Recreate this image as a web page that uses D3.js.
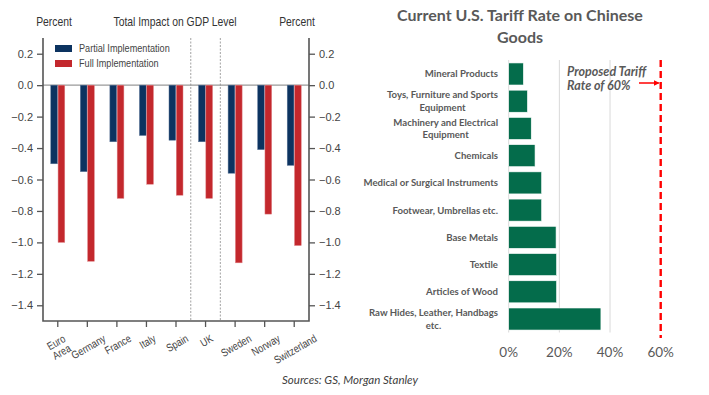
<!DOCTYPE html>
<html>
<head>
  <meta charset='utf-8'>
  <title>GDP impact and tariff rates</title>
  <script src='https://cdn.jsdelivr.net/npm/d3@7/dist/d3.min.js'></script>
  <style>
    body { margin: 0; background: #ffffff; }
    svg { display: block; }
  </style>
</head>
<body>
  <svg id='chart' width='709' height='395'></svg>
  <script>
    // left panel: GDP level impact
    const countries = ['Euro\nArea', 'Germany', 'France', 'Italy', 'Spain', 'UK', 'Sweden', 'Norway', 'Switzerland'];
    const partialImpl = [-0.50, -0.55, -0.36, -0.32, -0.35, -0.36, -0.56, -0.41, -0.51];
    const fullImpl = [-1.00, -1.12, -0.72, -0.63, -0.70, -0.72, -1.13, -0.82, -1.02];
    const gdpTicks = [0.2, 0.0, -0.2, -0.4, -0.6, -0.8, -1.0, -1.2, -1.4];
    const seriesNames = ['Partial Implementation', 'Full Implementation'];

    // right panel: tariff rates
    const goods = ['Mineral Products', 'Toys, Furniture and Sports\nEquipment', 'Machinery and Electrical\nEquipment',
      'Chemicals', 'Medical or Surgical Instruments', 'Footwear, Umbrellas etc.', 'Base Metals', 'Textile',
      'Articles of Wood', 'Raw Hides, Leather, Handbags\netc.'];
    const tariffRates = [0.058, 0.074, 0.089, 0.104, 0.13, 0.13, 0.187, 0.189, 0.189, 0.364];
    const rateTicks = [0, 0.2, 0.4, 0.6];
    const proposedRate = 0.6;

    const svg = d3.select('#chart');
    const arial = "'Liberation Sans', Arial, sans-serif";
    const calibri = "Lato, 'Open Sans', sans-serif";
    const squeeze = 0.83; // the left chart uses a condensed face
    const navy = '#0c3360';
    const red = '#c3282d';
    const axisGrey = '#555555';

    // condensed text helper: anchor at (tx, ty), squeeze horizontally
    function condText(parent, tx, ty, txt, size, anchor) {
      return parent.append('text')
          .attr('transform', `translate(${tx},${ty}) scale(${squeeze},1)`)
          .attr('text-anchor', anchor || 'start')
          .attr('fill', '#444')
          .style('font-family', arial).style('font-size', size + 'px')
          .text(txt);
    }

    // ---------- left chart ----------
    const left = { x0: 43, x1: 309, y0: 38, y1: 321 };
    const x = d3.scaleBand().domain(countries).range([left.x0, left.x1]);
    const xSub = d3.scaleBand().domain(seriesNames).range([-7, 7]).paddingInner(0.08);
    const y = d3.scaleLinear().domain([0.3, -1.5]).range([left.y0, left.y1]);
    const fmt = (d) => d3.format('.1f')(d).replace('-', '\u2212');

    const g = svg.append('g');

    // zero line
    g.append('line')
        .attr('x1', left.x0).attr('x2', left.x1)
        .attr('y1', y(0)).attr('y2', y(0))
        .attr('stroke', '#9a9a9a').attr('stroke-width', 1.2);

    // dotted separators around UK
    ['UK', 'Sweden'].forEach((c) => {
      g.append('line')
          .attr('x1', x(c)).attr('x2', x(c))
          .attr('y1', left.y0).attr('y2', left.y1)
          .attr('stroke', '#8a8a8a').attr('stroke-width', 0.8)
          .attr('stroke-dasharray', '2,1.5');
    });

    // bars
    const rows = countries.map((c, i) => ({ c, vals: [partialImpl[i], fullImpl[i]] }));
    const grp = g.selectAll('.country').data(rows).join('g')
        .attr('transform', (d) => `translate(${x(d.c) + x.bandwidth() / 2},0)`);
    grp.selectAll('rect')
        .data((d) => d.vals.map((v, k) => ({ v, s: seriesNames[k] })))
        .join('rect')
        .attr('x', (d) => xSub(d.s))
        .attr('width', xSub.bandwidth())
        .attr('y', y(0))
        .attr('height', (d) => y(d.v) - y(0))
        .attr('fill', (d, k) => k === 0 ? navy : red)
        .attr('stroke', (d, k) => k === 0 ? '#5a7597' : '#e08488')
        .attr('stroke-width', 0.5);

    // axes
    const axL = d3.axisLeft(y).tickValues(gdpTicks).tickFormat(fmt).tickSize(6).tickPadding(4);
    const axR = d3.axisRight(y).tickValues(gdpTicks).tickFormat(fmt).tickSize(6).tickPadding(4);
    const axB = d3.axisBottom(x).tickSize(6).tickFormat('');
    function styleAxis(sel) {
      sel.select('.domain').remove();
      sel.selectAll('line').attr('stroke', axisGrey).attr('stroke-width', 1.3);
      sel.selectAll('text').attr('fill', '#444').style('font-family', arial).style('font-size', '11px');
    }
    g.append('g').attr('transform', `translate(${left.x0},0)`).call(axL).call(styleAxis);
    g.append('g').attr('transform', `translate(${left.x1},0)`).call(axR).call(styleAxis);
    g.append('g').attr('transform', `translate(0,${left.y1})`).call(axB).call(styleAxis);

    // frame (left, right, bottom spines)
    g.append('path')
        .attr('d', `M${left.x0},${left.y0}V${left.y1}H${left.x1}V${left.y0}`)
        .attr('fill', 'none').attr('stroke', axisGrey).attr('stroke-width', 1.6);

    // rotated country labels
    const angle = -30;
    const rad = Math.PI / 6;
    countries.forEach((c) => {
      const lines = c.split('\n');
      const t = g.append('text')
          .attr('fill', '#444')
          .style('font-family', arial).style('font-size', '11px')
          .attr('text-anchor', 'middle');
      lines.forEach((ln, i) => {
        t.append('tspan').attr('x', 0).attr('dy', i === 0 ? 0 : '1em').text(ln);
      });
      const bb = t.node().getBBox();
      const w = bb.width * squeeze, h = bb.height;
      const rotH = w * Math.sin(rad) + h * Math.cos(rad);
      const cx = x(c) + x.bandwidth() / 2 + 1;
      const cy = left.y1 + 11 + rotH / 2;
      const midY = bb.y + h / 2;
      t.attr('transform', `translate(${cx},${cy}) rotate(${angle}) scale(${squeeze},1) translate(0,${-midY})`);
    });

    // legend
    const leg = g.append('g').attr('transform', 'translate(55,45)');
    seriesNames.forEach((s, i) => {
      leg.append('rect').attr('x', 0).attr('y', i * 15).attr('width', 17).attr('height', 7)
          .attr('fill', i === 0 ? navy : red);
      condText(leg, 24, i * 15 + 7, s, 11);
    });

    // headers
    const head = [['Percent', 54], ['Total Impact on GDP Level', 175], ['Percent', 297]];
    head.forEach(([txt, hx]) => {
      condText(g, hx, 26, txt, 12.5, 'middle').attr('fill', '#333');
    });

    // ---------- right chart ----------
    const right = { x0: 508.7, y0: 60, y1: 332.5 };
    const xr = d3.scaleLinear().domain([0, 0.6]).range([right.x0, 660.7]);
    const yr = d3.scaleBand().domain(goods).range([60.5, 332.5]).paddingInner(0.19).paddingOuter(0.09);
    const r = svg.append('g');

    // gridlines
    r.selectAll('.grid').data(rateTicks.slice(0, 3)).join('line')
        .attr('x1', (d) => xr(d)).attr('x2', (d) => xr(d))
        .attr('y1', right.y0).attr('y2', right.y1)
        .attr('stroke', '#d9d9d9').attr('stroke-width', 1);

    r.selectAll('.bar').data(goods).join('rect')
        .attr('x', xr(0))
        .attr('y', (d) => yr(d))
        .attr('width', (d, i) => xr(tariffRates[i]) - xr(0))
        .attr('height', yr.bandwidth())
        .attr('fill', '#046c4b')
        .attr('stroke', '#ffffff').attr('stroke-width', 0.6);

    // proposed line
    r.append('line')
        .attr('x1', xr(proposedRate)).attr('x2', xr(proposedRate))
        .attr('y1', right.y0).attr('y2', 338)
        .attr('stroke', '#ff0000').attr('stroke-width', 2.4)
        .attr('stroke-dasharray', '7,4');

    // category labels
    goods.forEach((c) => {
      const lines = c.split('\n');
      const t = r.append('text')
          .attr('fill', '#595959')
          .style('font-family', calibri).style('font-size', '9.6px').style('font-weight', 'bold')
          .attr('text-anchor', 'middle');
      lines.forEach((ln) => t.append('tspan').text(ln));
      const widths = [];
      t.selectAll('tspan').each(function () { widths.push(this.getComputedTextLength()); });
      const wMax = d3.max(widths);
      const cx = 498 - wMax / 2;
      const cy = yr(c) + yr.bandwidth() / 2;
      const lh = 12.5;
      t.selectAll('tspan')
          .attr('x', cx)
          .attr('y', (d, i) => cy + 3.4 + (i - (lines.length - 1) / 2) * lh);
    });

    // x tick labels
    r.selectAll('.xl').data(rateTicks).join('text')
        .attr('x', (d) => xr(d))
        .attr('y', 357)
        .attr('text-anchor', 'middle')
        .attr('fill', '#595959')
        .style('font-family', calibri).style('font-size', '13.5px')
        .text(d3.format('.0%'));

    // annotation
    const ann = r.append('text')
        .attr('fill', '#595959')
        .style('font-family', calibri).style('font-size', '12.5px')
        .style('font-weight', 'bold').style('font-style', 'italic');
    ann.append('tspan').attr('x', 567).attr('y', 76).text('Proposed Tariff');
    ann.append('tspan').attr('x', 567).attr('y', 90).text('Rate of 60%');

    svg.append('defs').append('marker')
        .attr('id', 'arrowhead').attr('markerWidth', 6).attr('markerHeight', 6)
        .attr('refX', 5).attr('refY', 3).attr('orient', 'auto').attr('markerUnits', 'userSpaceOnUse')
        .append('path').attr('d', 'M0,0L6,3L0,6Z').attr('fill', '#ff0000');
    r.append('line')
        .attr('x1', 639).attr('x2', xr(proposedRate) - 2)
        .attr('y1', 83).attr('y2', 83)
        .attr('stroke', '#ff0000').attr('stroke-width', 1.5)
        .attr('marker-end', 'url(#arrowhead)');

    // title
    const title = r.append('text').attr('text-anchor', 'middle')
        .attr('fill', '#595959')
        .style('font-family', calibri).style('font-size', '16px').style('font-weight', 'bold');
    title.append('tspan').attr('x', 520).attr('y', 21).text('Current U.S. Tariff Rate on Chinese');
    title.append('tspan').attr('x', 520).attr('y', 43).text('Goods');

    // source
    svg.append('text').attr('x', 350).attr('y', 384).attr('text-anchor', 'middle')
        .attr('fill', '#404040')
        .style('font-family', calibri).style('font-size', '11.5px').style('font-style', 'italic')
        .text('Sources: GS, Morgan Stanley');
  </script>
</body>
</html>
